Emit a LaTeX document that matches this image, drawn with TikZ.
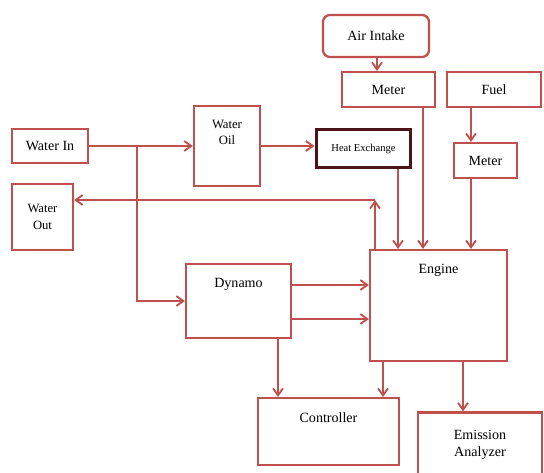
\documentclass[tikz,border=0pt]{standalone}
\usepackage{fontspec}
\setmainfont{Liberation Serif}
\usetikzlibrary{arrows.meta}

\definecolor{boxred}{HTML}{C0504D}
\definecolor{linered}{HTML}{C0504D}
\definecolor{darkbrown}{HTML}{4A1418}

\tikzset{
    box/.style={rectangle,draw=boxred,line width=1.6pt,font=\fontsize{10}{12}\selectfont,
        inner sep=2pt,align=center},
    topbox/.style={box,label={[anchor=center,yshift=-0.53cm,font=\fontsize{10}{12}\selectfont]north:#1}},
    arr/.style={draw=linered,line width=1.3pt,-{Straight Barb[length=5pt,width=7pt]}},
}

\begin{document}
\begin{tikzpicture}[x=0.025cm,y=-0.025cm]
            \useasboundingbox[fill=white] (0,0) rectangle (544,472);

            \node [box,rounded corners=5pt,minimum width=2.65cm,minimum height=1.05cm] (air) at (376,36) {Air Intake};
            \node [box,minimum width=2.32cm,minimum height=0.87cm] (meterA) at (388.5,89.5) {Meter};
            \node [box,minimum width=2.35cm,minimum height=0.87cm] (fuel) at (494,89.5) {Fuel};
            \node [box,draw=darkbrown,line width=2.2pt,minimum width=2.37cm,minimum height=0.97cm,
                font=\fontsize{7.5}{9}\selectfont] (heat) at (363.5,148.5) {Heat Exchange};
            \node [box,minimum width=1.57cm,minimum height=0.87cm] (meterF) at (485.5,160.5) {Meter};
            \node [box,minimum width=1.9cm,minimum height=0.85cm] (waterin) at (50,146) {Water In};
            \node [box,minimum width=1.65cm,minimum height=2cm,
                label={[anchor=center,yshift=-0.68cm,align=center,font=\fontsize{9}{11.5}\selectfont]north:Water\\Oil}] (wateroil) at (227,146) {};
            \node [box,minimum width=1.52cm,minimum height=1.65cm,font=\fontsize{9}{11.5}\selectfont] (waterout) at (42.5,217) {Water\\Out};
            \node [topbox=Dynamo,minimum width=2.62cm,minimum height=1.85cm] (dynamo) at (238.5,301) {};
            \node [topbox=Engine,minimum width=3.42cm,minimum height=2.77cm] (engine) at (438.5,305.5) {};
            \node [topbox=Controller,minimum width=3.52cm,minimum height=1.67cm] (controller) at (328.5,431.5) {};
            \node [box,minimum width=3.1cm,minimum height=1.62cm] (emission) at (480,445) {Emission\\Analyzer};
            \coordinate (split) at (137,146);
            \coordinate (turn) at (375,200);

            % air and fuel
            \path
            (air.south -| 377,0) edge[arr] (meterA.north -| 377,0)
            (fuel.south -| 471,0) edge[arr] (meterF.north -| 471,0)
            (meterA.south -| 423,0) edge[arr] (engine.north -| 423,0)
            (meterF.south -| 471,0) edge[arr] (engine.north -| 471,0)
            (heat.south -| 398,0) edge[arr] (engine.north -| 398,0)
            ;

            % water
            \draw[arr] (waterin) -- (wateroil);
            \draw[arr] (wateroil.east) -- (heat.west |- wateroil.east);
            \draw[arr] (split) |- (dynamo.west);
            \draw[arr] (engine.north -| turn) -- (turn);
            \draw[arr] (turn) -- (waterout.east |- turn);

            % outputs
            \path
            (dynamo.east |- 0,285) edge[arr] (engine.west |- 0,285)
            (dynamo.east |- 0,319) edge[arr] (engine.west |- 0,319)
            (dynamo.south -| 278,0) edge[arr] (controller.north -| 278,0)
            (engine.south -| 383,0) edge[arr] (controller.north -| 383,0)
            (engine.south -| 463,0) edge[arr] (emission.north -| 463,0)
            ;

        \end{tikzpicture}
\end{document}
